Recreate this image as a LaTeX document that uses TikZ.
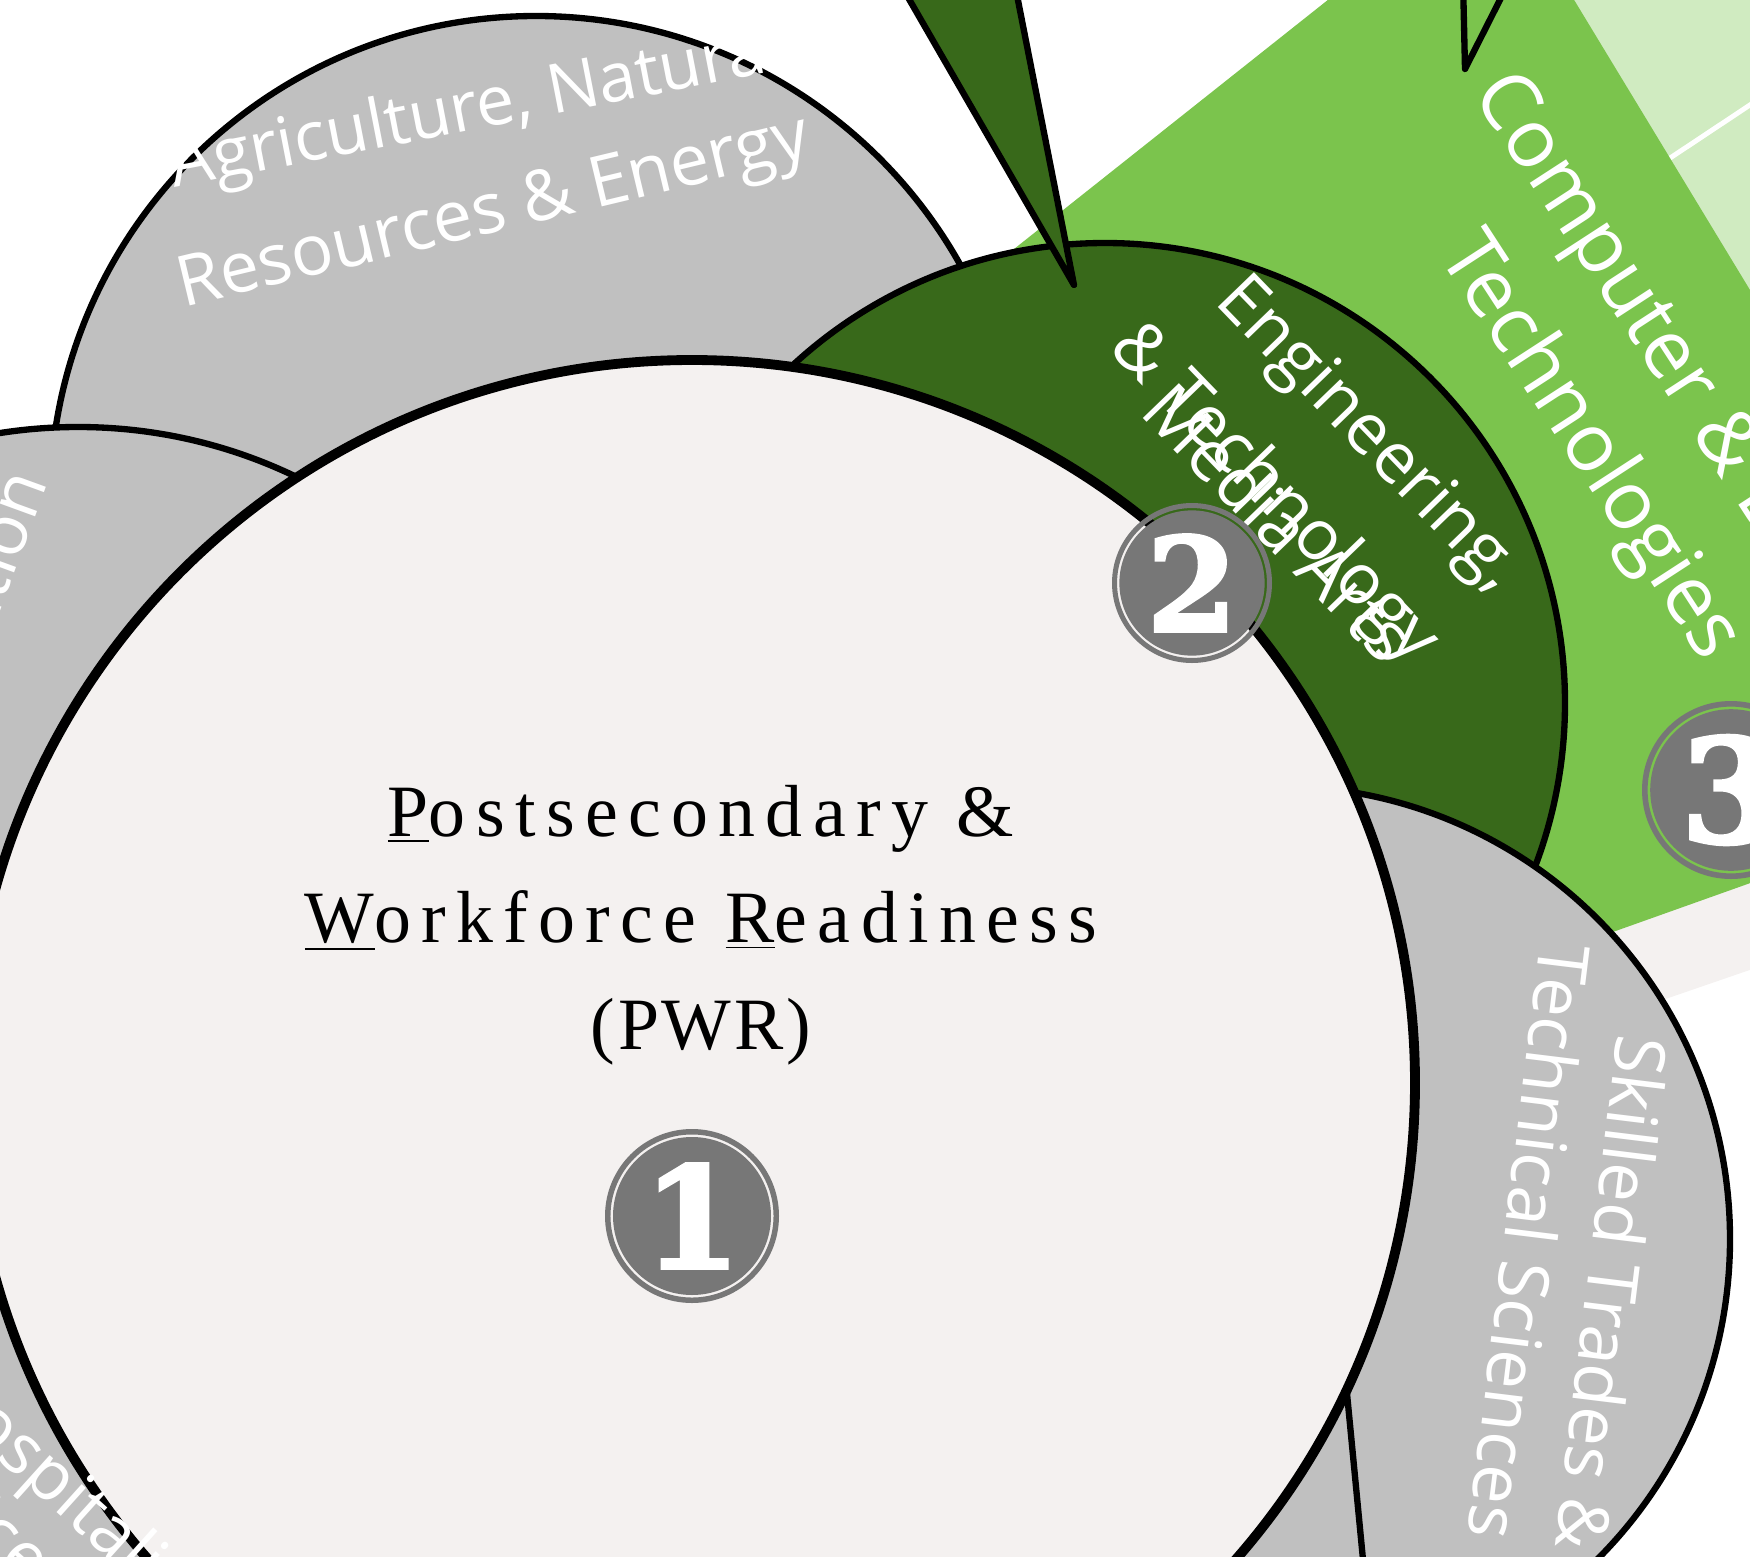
\documentclass[tikz,border=0pt]{standalone}
\usepackage{fontspec}
\usepackage{tikz}
\newfontfamily\sansfont{Open Sans}
\newfontfamily\pwrfont{Liberation Serif}[LetterSpace=14]
\newfontfamily\digitfont{DejaVu Serif Bold}[FakeBold=2.5]
\definecolor{paper}{HTML}{F4F1F0}
\definecolor{petal}{HTML}{C0C0C0}
\definecolor{forest}{HTML}{38691A}
\definecolor{leaf}{HTML}{7BC44D}
\definecolor{mint}{HTML}{D0EBC1}
\definecolor{coin}{HTML}{777777}

\begin{document}
\begin{tikzpicture}[x=0.1mm,y=-0.1mm,
    petalline/.style={draw=black,line width=1.8pt},
    label/.style={text=white,align=center,font=\sansfont\fontsize{20}{27}\selectfont}]
    \useasboundingbox (0,0) rectangle (1750,1557);
    \clip (0,0) rectangle (1750,1557);
    % bands at the top right
    \fill[mint] (1550,-20)--(1770,-20)--(1770,300)--(1700,300)--cycle;
    \draw[white,line width=1.4pt] (1640,178)--(1780,85);
    \fill[paper] (1750,860)--(1770,860)--(1770,963)--(1500,1056)--(1450,960)--cycle;
    \fill[leaf] (980,276)--(1353,-20)--(1562,-20)--(1770,323)--(1770,876)--(1450,990)--(1200,700)--cycle;
    \filldraw[fill=leaf,petalline,line join=round] (1463,-20)--(1465,69)--(1510,-20)--cycle;
    \node[label,rotate=-57,font=\sansfont\fontsize{23}{33}\selectfont] (comp) at (1637,416) {Computer \& Digital\\Technologies};
    % petals
    \filldraw[fill=petal,petalline] (536,502) circle [radius=486];
    \node[label,rotate=11,font=\sansfont\fontsize{19.5}{27}\selectfont] (agriA) at (477,111) {Agriculture, Natural};
    \node[label,rotate=13.5] (agriB) at (494,215) {Resources \& Energy};
    \filldraw[fill=petal,petalline] (78,929) circle [radius=502];
    \node[label,rotate=70,anchor=base east] (admin) at (52,470) {Public Administration};
    \filldraw[fill=petal,petalline] (-112,1741) circle [radius=482];
    \filldraw[fill=forest,petalline] (1105,703) circle [radius=460];
    \filldraw[fill=forest,petalline,line join=round] (898,-20)--(1074,285)--(1014,-20)--cycle;
    \node[label,rotate=-46] (eng) at (1367,436) {Engineering,};
    \node[label,rotate=-46] (tech) at (1273,495) {\& Technology};
    \node[label,rotate=-46] (media) at (1280,522) {Media Arts};
    \filldraw[fill=petal,petalline] (1277,1239) circle [radius=453];
    \node[label,rotate=-97,align=right,font=\sansfont\fontsize{20}{25}\selectfont] (trades) at (1574,1247) {Skilled Trades \&\\Technical Sciences};
    \filldraw[fill=petal,petalline] (1338,1300)--(1364,1570)--(1000,1570)--(1000,1300)--cycle;
    % centre
    \filldraw[fill=paper,draw=black,line width=2.8pt] (692,1083) circle [radius=723];
    \node[align=center,font=\pwrfont\fontsize{21}{30.3}\selectfont] (pwr) at (701,925)
        {\underline{P}ostsecondary \&\\\underline{W}orkforce \underline{R}eadiness\\{\addfontfeature{LetterSpace=4}(PWR)}};
    \node[label,rotate=-42,font=\sansfont\fontsize{20}{22}\selectfont] (hosp) at (149,1612) {Hospitality, Human\\Services \& Education};
    % numbered coins
    \foreach \n/\x/\y/\r/\s in {1/692/1216/87/40,2/1192/583/80/37,3/1731/790/89/41}{
        \fill[coin,even odd rule] (\x,\y) circle [radius=\r] circle [radius=0.937*\r] circle [radius=0.908*\r];
        \node[text=white,font=\digitfont\fontsize{\s}{\s}\selectfont] (coin\n) at (\x,\y) {\n};
    }
\end{tikzpicture}
\end{document}
